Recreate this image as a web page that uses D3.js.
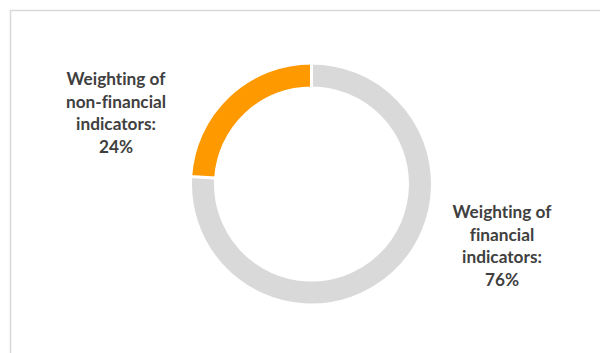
<!DOCTYPE html>
<html>
<head>
<meta charset="utf-8">
<script src="https://cdn.jsdelivr.net/npm/d3@7"></script>
<style>
  html, body { margin: 0; padding: 0; background: #fff; }
  svg { display: block; }
  text { font-variant-ligatures: none; font-feature-settings: "liga" 0, "clig" 0; }
</style>
</head>
<body>
<svg id="chart" width="600" height="353"></svg>
<script>
// ---- data ----
const categories = ["Weighting of financial indicators", "Weighting of non-financial indicators"];
const values = [76, 24];
const labelLines = [
  ["Weighting of", "financial", "indicators:", "76%"],
  ["Weighting of", "non-financial", "indicators:", "24%"]
];
const colors = ["#D9D9D9", "#FF9900"];

// ---- layout ----
const W = 600, H = 353;
const cx = 311.5, cy = 184, outerR = 121, innerR = 96;
const labelPos = [ {x: 502, y: 218}, {x: 116, y: 85} ]; // first-line baseline
const lineH = 22.6;
const fontFamily = "Lato, 'Open Sans', sans-serif";

const svg = d3.select("#chart");

// chart area border
svg.append("rect")
  .attr("x", 10.5).attr("y", 10.5)
  .attr("width", W + 20).attr("height", H + 20)
  .attr("fill", "#fff")
  .attr("stroke", "#D9D9D9")
  .attr("stroke-width", 1.5);

const data = categories.map((c, i) => ({ name: c, value: values[i], lines: labelLines[i], color: colors[i] }));

const pie = d3.pie().sort(null).value(d => d.value);
const arc = d3.arc().innerRadius(innerR).outerRadius(outerR);

const g = svg.append("g").attr("transform", `translate(${cx},${cy})`);
g.selectAll("path")
  .data(pie(data))
  .join("path")
  .attr("d", arc)
  .attr("fill", d => d.data.color)
  .attr("stroke", "#fff")
  .attr("stroke-width", 3)
  .attr("stroke-linejoin", "miter");

// fit font size so "Weighting of" is ~99px wide (Calibri-like metrics)
const probe = svg.append("text")
  .attr("font-family", fontFamily).attr("font-weight", "bold")
  .attr("font-size", 20).text("Weighting of");
const w20 = probe.node().getComputedTextLength();
probe.remove();
const fontSize = Math.min(19, 20 * 99 / w20);

const labels = svg.selectAll("text.lbl")
  .data(data)
  .join("text")
  .attr("class", "lbl")
  .attr("text-anchor", "middle")
  .attr("font-family", fontFamily)
  .attr("font-weight", "bold")
  .attr("font-size", fontSize)
  .attr("fill", "#404040");

labels.each(function(d, i) {
  const t = d3.select(this);
  d.lines.forEach((ln, k) => {
    t.append("tspan")
      .attr("x", labelPos[i].x)
      .attr("y", labelPos[i].y + k * lineH)
      .text(ln);
  });
});
</script>
</body>
</html>
